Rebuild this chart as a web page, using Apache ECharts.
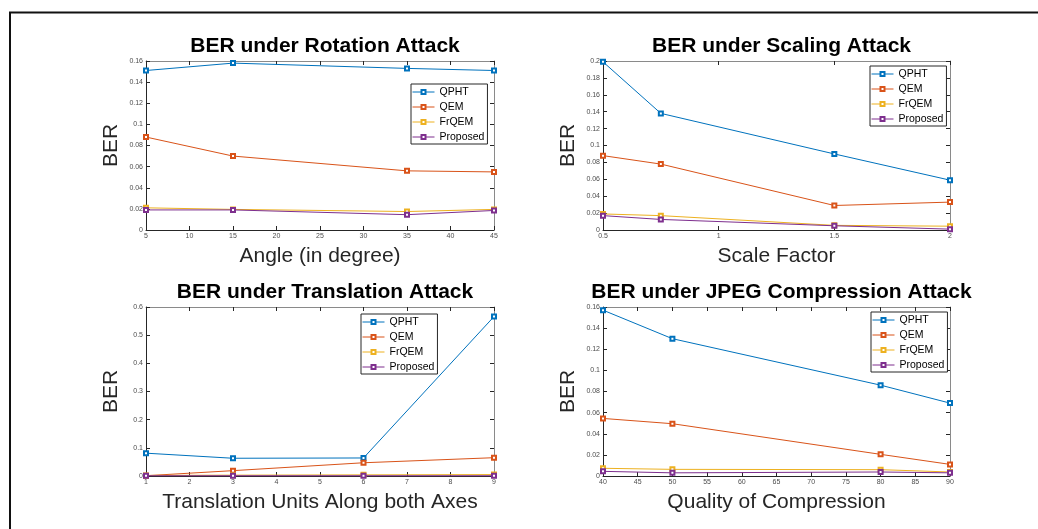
<!DOCTYPE html>
<html><head><meta charset="utf-8">
<script src="https://cdn.jsdelivr.net/npm/echarts@6/dist/echarts.min.js"></script>
<style>html,body{margin:0;padding:0;background:#fff}#c{width:1038px;height:529px}</style>
</head><body><div id="c"></div>
<script>
// ---- data ----
const seriesNames = ['QPHT', 'QEM', 'FrQEM', 'Proposed'];

const rotAngles = [5, 15, 35, 45];
const rotQPHT = [0.151, 0.158, 0.153, 0.151];
const rotQEM = [0.088, 0.070, 0.056, 0.055];
const rotFrQEM = [0.021, 0.0195, 0.0175, 0.0195];
const rotProposed = [0.019, 0.019, 0.0145, 0.0185];

const scaleFactors = [0.5, 0.75, 1.5, 2];
const scaleQPHT = [0.199, 0.138, 0.090, 0.059];
const scaleQEM = [0.088, 0.078, 0.029, 0.033];
const scaleFrQEM = [0.019, 0.017, 0.0055, 0.0045];
const scaleProposed = [0.017, 0.0125, 0.005, 0.001];

const transUnits = [1, 3, 6, 9];
const transQPHT = [0.081, 0.063, 0.064, 0.566];
const transQEM = [0.001, 0.019, 0.047, 0.065];
const transFrQEM = [0.002, 0.003, 0.004, 0.005];
const transProposed = [0.001, 0.001, 0.001, 0.001];

const jpegQuality = [40, 50, 80, 90];
const jpegQPHT = [0.157, 0.130, 0.086, 0.069];
const jpegQEM = [0.0545, 0.0495, 0.0205, 0.011];
const jpegFrQEM = [0.0073, 0.0063, 0.006, 0.0038];
const jpegProposed = [0.0044, 0.003, 0.0038, 0.003];

const titles = ['BER under Rotation Attack', 'BER under Scaling Attack', 'BER under Translation Attack', 'BER under JPEG Compression Attack'];
const xNames = ['Angle (in degree)', 'Scale Factor', 'Translation Units Along both Axes', 'Quality of Compression'];
const yName = 'BER';

const xScales = [{min: 5, max: 45, interval: 5}, {min: 0.5, max: 2, interval: 0.5}, {min: 1, max: 9, interval: 1}, {min: 40, max: 90, interval: 5}];
const yScales = [{min: 0, max: 0.16, interval: 0.02}, {min: 0, max: 0.2, interval: 0.02}, {min: 0, max: 0.6, interval: 0.1}, {min: 0, max: 0.16, interval: 0.02}];

const panels = [
  {x: rotAngles, ys: [rotQPHT, rotQEM, rotFrQEM, rotProposed]},
  {x: scaleFactors, ys: [scaleQPHT, scaleQEM, scaleFrQEM, scaleProposed]},
  {x: transUnits, ys: [transQPHT, transQEM, transFrQEM, transProposed]},
  {x: jpegQuality, ys: [jpegQPHT, jpegQEM, jpegFrQEM, jpegProposed]}
];

// ---- layout/style ----
const colors = ['#0072BD', '#D95319', '#EDB120', '#7E2F8E'];
const FONT = '"Liberation Sans", Arial, Helvetica, sans-serif';
const grids = [
  {left: 146, top: 61, width: 348, height: 169},
  {left: 603, top: 61, width: 347, height: 169},
  {left: 146, top: 307, width: 348, height: 169},
  {left: 603, top: 307, width: 347, height: 169}
];
const titleTops = [31, 31, 277, 277];
const legendPos = [{left: 411, top: 84}, {left: 870, top: 66}, {left: 361, top: 314}, {left: 871, top: 312}];

const xAxis = [], yAxis = [], series = [], title = [], legend = [];
grids.forEach((g, i) => {
  const xs = xScales[i], ys = yScales[i];
  xAxis.push({
    type: 'value', gridIndex: i, min: xs.min, max: xs.max, interval: xs.interval,
    name: xNames[i], nameLocation: 'middle', nameGap: 16,
    nameTextStyle: {fontFamily: FONT, fontSize: 21, color: '#262626'},
    axisLine: {show: true, onZero: false, lineStyle: {color: '#262626', width: 1}},
    axisTick: {show: true, inside: true, length: 4, lineStyle: {color: '#262626'}},
    axisLabel: {fontFamily: FONT, fontSize: 7, color: '#4d4d4d', margin: 3},
    splitLine: {show: false}
  });
  xAxis.push({
    type: 'value', gridIndex: i, position: 'top', min: xs.min, max: xs.max, interval: xs.interval,
    axisLine: {show: true, onZero: false, lineStyle: {color: '#8a8a8a', width: 1}},
    axisTick: {show: true, inside: true, length: 4, lineStyle: {color: '#262626'}},
    axisLabel: {show: false}, splitLine: {show: false}
  });
  yAxis.push({
    type: 'value', gridIndex: i, min: ys.min, max: ys.max, interval: ys.interval,
    name: yName, nameLocation: 'middle', nameGap: 24,
    nameTextStyle: {fontFamily: FONT, fontSize: 21, color: '#262626'},
    axisLine: {show: true, onZero: false, lineStyle: {color: '#262626', width: 1}},
    axisTick: {show: true, inside: true, length: 4, lineStyle: {color: '#262626'}},
    axisLabel: {fontFamily: FONT, fontSize: 7, color: '#4d4d4d', margin: 3},
    splitLine: {show: false}
  });
  yAxis.push({
    type: 'value', gridIndex: i, position: 'right', min: ys.min, max: ys.max, interval: ys.interval,
    axisLine: {show: true, onZero: false, lineStyle: {color: '#8a8a8a', width: 1}},
    axisTick: {show: true, inside: true, length: 4, lineStyle: {color: '#262626'}},
    axisLabel: {show: false}, splitLine: {show: false}
  });
  title.push({
    text: titles[i], left: g.left + g.width / 2, top: titleTops[i], textAlign: 'center',
    textStyle: {fontFamily: FONT, fontSize: 21, fontWeight: 'bold', color: '#000'}
  });
  legend.push({
    orient: 'vertical', left: legendPos[i].left, top: legendPos[i].top,
    data: seriesNames, itemWidth: 22, itemHeight: 5, itemGap: 3,
    padding: [2, 3, 1, 1], borderColor: '#262626', borderWidth: 1, backgroundColor: '#fff',
    lineStyle: {width: 1}, itemStyle: {borderWidth: 1},
    textStyle: {fontFamily: FONT, fontSize: 10.5, color: '#000', lineHeight: 12}
  });
  const p = panels[i];
  p.ys.forEach((vals, k) => {
    series.push({
      type: 'line', name: seriesNames[k], xAxisIndex: 2 * i, yAxisIndex: 2 * i,
      data: p.x.map((xv, j) => [xv, vals[j]]),
      symbol: 'emptyRect', symbolSize: 4, showSymbol: true,
      lineStyle: {color: colors[k], width: 1}, itemStyle: {color: colors[k], borderWidth: 1},
      animation: false, clip: false, z: 3 + k
    });
  });
});

const chart = echarts.init(document.getElementById('c'), null, {renderer: 'canvas'});
chart.setOption({
  animation: false, backgroundColor: '#fff',
  grid: grids, xAxis, yAxis, series, title, legend,
  graphic: [{type: 'rect', shape: {x: 10, y: 12.5, width: 1100, height: 600},
    style: {fill: 'none', stroke: '#111', lineWidth: 2}, silent: true}]
});
</script></body></html>
